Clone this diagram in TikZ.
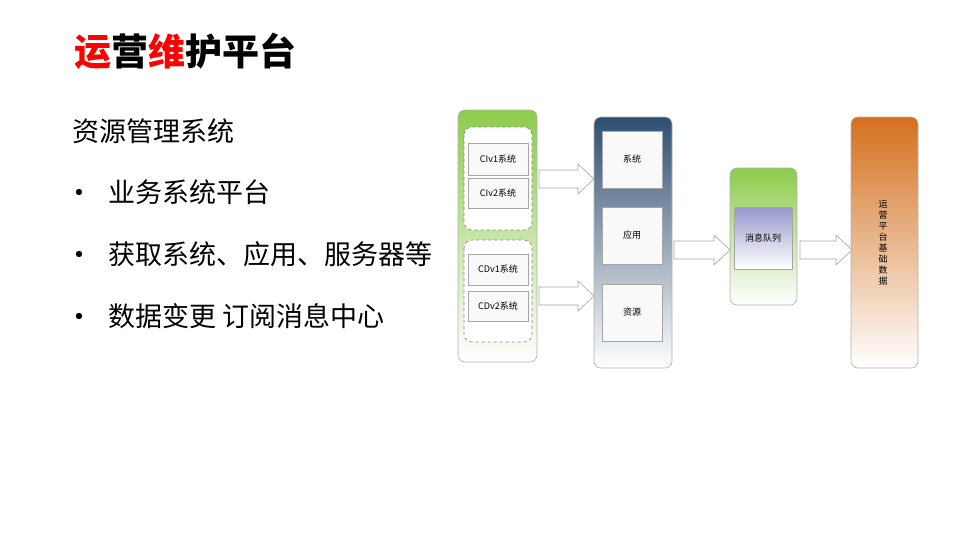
\documentclass[tikz,border=0pt]{standalone}
\usepackage{fontspec}
\setmainfont{Noto Sans CJK SC}
\definecolor{tred}{HTML}{FF0000}
\definecolor{gtop}{HTML}{8CCB4A}
\definecolor{btop}{HTML}{2F4F70}
\definecolor{otop}{HTML}{D4701E}
\tikzset{
 panel/.style={rounded corners=7pt,draw=gray!60,line width=0.6pt},
 inbox/.style={draw=gray!70,fill=gray!5,line width=0.6pt,font=\fontsize{9}{10}\selectfont},
 grp/.style={draw=gray,dashed,rounded corners=8pt,fill=white,line width=0.6pt},
 fat/.style={draw=gray!70,fill=white,line width=0.6pt},
 bul/.style={anchor=west,font=\fontsize{27}{30}\selectfont}
}
\newcommand{\myfatarrow}[3]{% x1 x2 y
 \draw[fat] (#1,#3-9) -- (#2-16,#3-9) -- (#2-16,#3-15) -- (#2,#3) -- (#2-16,#3+15) -- (#2-16,#3+9) -- (#1,#3+9) -- cycle;}
\begin{document}
\begin{tikzpicture}[x=1pt,y=-1pt]
\useasboundingbox (0,0) rectangle (959,539);
\node[anchor=west,font=\fontsize{37}{40}\selectfont\bfseries] (title) at (71,51) {\textcolor{tred}{运}营\textcolor{tred}{维}护平台};
\node[bul] (sub) at (69,131) {资源管理系统};
\foreach \y/\t [count=\i] in {192/业务系统平台,254/获取系统、应用、服务器等,316/数据变更 订阅消息中心}{
 \node[bul] (b\i) at (105,\y) {\t};
 \fill (79,\y) circle (3.2);
}
% left panel
\path[panel,top color=gtop,bottom color=white] (458,110) rectangle (537,362);
\draw[grp] (464,127) rectangle (532,230);
\draw[grp] (464,240) rectangle (532,342);
\node[inbox,minimum width=60pt,minimum height=32pt] (c1) at (498,159) {CIv1系统};
\node[inbox,minimum width=60pt,minimum height=30pt] (c2) at (498,193) {CIv2系统};
\node[inbox,minimum width=60pt,minimum height=31pt] (d1) at (498,269.5) {CDv1系统};
\node[inbox,minimum width=60pt,minimum height=30pt] (d2) at (498,306) {CDv2系统};
% blue panel
\path[panel,top color=btop,bottom color=white] (594,117) rectangle (672,368);
\node[inbox,minimum width=60pt,minimum height=57pt] (s1) at (632,159.5) {系统};
\node[inbox,minimum width=60pt,minimum height=57pt] (s2) at (632,235.5) {应用};
\node[inbox,minimum width=60pt,minimum height=57pt] (s3) at (632,312.5) {资源};
% mq panel
\path[panel,top color=gtop,bottom color=white] (730,168) rectangle (797,305);
\node[draw=gray!70,top color=blue!35!gray!60,bottom color=white,minimum width=58pt,minimum height=62pt,font=\fontsize{9}{10}\selectfont] (mq) at (763,238) {消息队列};
% orange panel
\path[panel,top color=otop,bottom color=white] (851,117) rectangle (918,368);
\node[font=\fontsize{9}{11}\selectfont,align=center,inner sep=0pt] (od) at (883,243) {运\\营\\平\\台\\基\\础\\数\\据};
% arrows
\myfatarrow{539}{594}{179}
\myfatarrow{539}{594}{296}
\myfatarrow{674}{730}{250}
\myfatarrow{800}{852}{250}
\end{tikzpicture}
\end{document}
